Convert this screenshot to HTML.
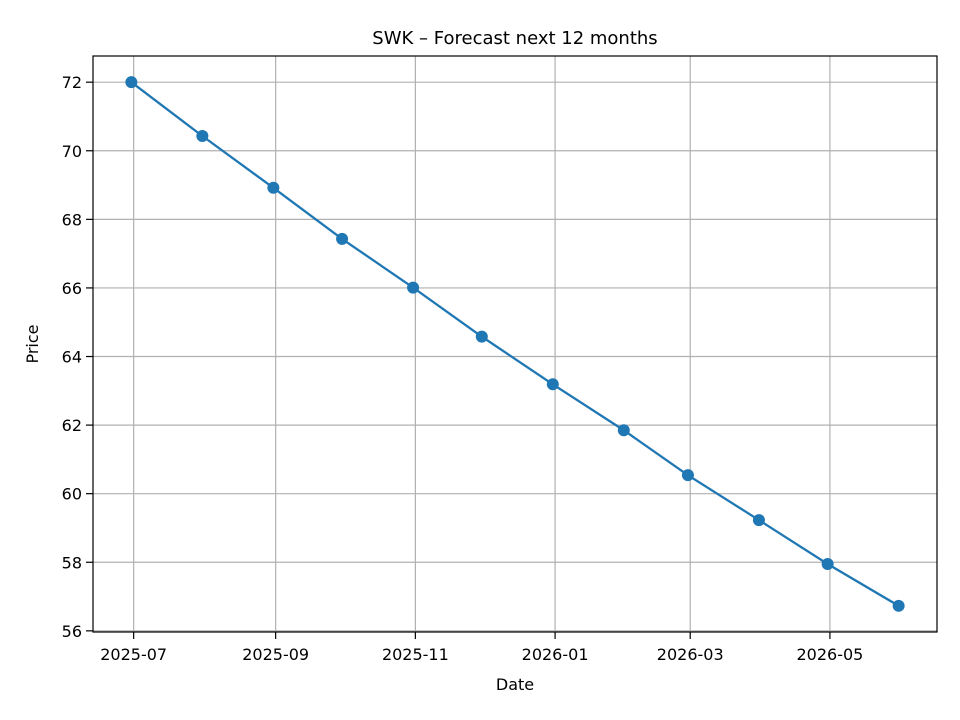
<!DOCTYPE html>
<html><head><meta charset="utf-8"><style>
html,body{margin:0;padding:0;background:#fff;}
svg{display:block;font-family:"DejaVu Sans","Liberation Sans",sans-serif;}
</style></head><body>
<svg id="chart" width="960" height="720" viewBox="0 0 960 720"></svg>
<script>
const dates = ["2025-06-30","2025-07-31","2025-08-31","2025-09-30","2025-10-31","2025-11-30","2025-12-31","2026-01-31","2026-02-28","2026-03-31","2026-04-30","2026-05-31"];
const prices = [72.00,70.43,68.92,67.43,66.01,64.58,63.19,61.85,60.54,59.23,57.95,56.73];
const yTicks = [56,58,60,62,64,66,68,70,72];
const xTicks = ["2025-07-01","2025-09-01","2025-11-01","2026-01-01","2026-03-01","2026-05-01"];
const xTickLabels = ["2025-07","2025-09","2025-11","2026-01","2026-03","2026-05"];

const NS="http://www.w3.org/2000/svg";
const svg=document.getElementById('chart');
const L=93,R=937,T=56,B=632;
const day=s=>Date.parse(s+"T00:00:00Z")/86400000;
const dx=dates.map(day);
let xmin=Math.min(...dx),xmax=Math.max(...dx),xm=(xmax-xmin)*0.05;xmin-=xm;xmax+=xm;
let ymin=Math.min(...prices),ymax=Math.max(...prices),ym=(ymax-ymin)*0.05;ymin-=ym;ymax+=ym;
const X=d=>L+(d-xmin)/(xmax-xmin)*(R-L);
const Y=v=>B-(v-ymin)/(ymax-ymin)*(B-T);
function el(tag,attrs,parent){const e=document.createElementNS(NS,tag);for(const k in attrs)e.setAttribute(k,attrs[k]);(parent||svg).appendChild(e);return e;}

const grid=el('g',{});


xTicks.forEach((t,i)=>{
  const x=X(day(t));
  const g=el('line',{x1:x,x2:x,y1:T,y2:B,stroke:'#b0b0b0','stroke-width':1.2},grid);
  
  
  const tk=el('line',{x1:x,x2:x,y1:B,y2:B+7,stroke:'#000','stroke-width':1.2});
  
  
  const tx=el('text',{x:x,y:B+28,'text-anchor':'middle','font-size':16,fill:'#000'});
  tx.textContent=xTickLabels[i];
  
  
});
yTicks.forEach(v=>{
  const y=Y(v);
  const g=el('line',{x1:L,x2:R,y1:y,y2:y,stroke:'#b0b0b0','stroke-width':1.2},grid);
  
  
  const tk=el('line',{x1:L-7,x2:L,y1:y,y2:y,stroke:'#000','stroke-width':1.2});
  
  
  const tx=el('text',{x:L-11,y:y+6,'text-anchor':'end','font-size':16,fill:'#000'});
  tx.textContent=v;
  
  
});

const pts=dx.map((d,i)=>X(d)+','+Y(prices[i])).join(' ');
const line=el('polyline',{points:pts,fill:'none',stroke:'#1f77b4','stroke-width':2.3});


dx.forEach((d,i)=>{
  const c=el('circle',{cx:X(d),cy:Y(prices[i]),r:6,fill:'#1f77b4'});
  
  
});

const frame=el('rect',{x:L,y:T,width:R-L,height:B-T,fill:'none',stroke:'#000','stroke-width':1.2});



const title=el('text',{x:(L+R)/2,y:44,'text-anchor':'middle','font-size':18,fill:'#000'});
title.textContent='SWK – Forecast next 12 months';


const xl=el('text',{x:(L+R)/2,y:690,'text-anchor':'middle','font-size':16,fill:'#000'});
xl.textContent='Date';


const yl=el('text',{x:38,y:(T+B)/2,'text-anchor':'middle','font-size':16,fill:'#000',transform:'rotate(-90 38 '+((T+B)/2)+')'});
yl.textContent='Price';


</script>
</body></html>
